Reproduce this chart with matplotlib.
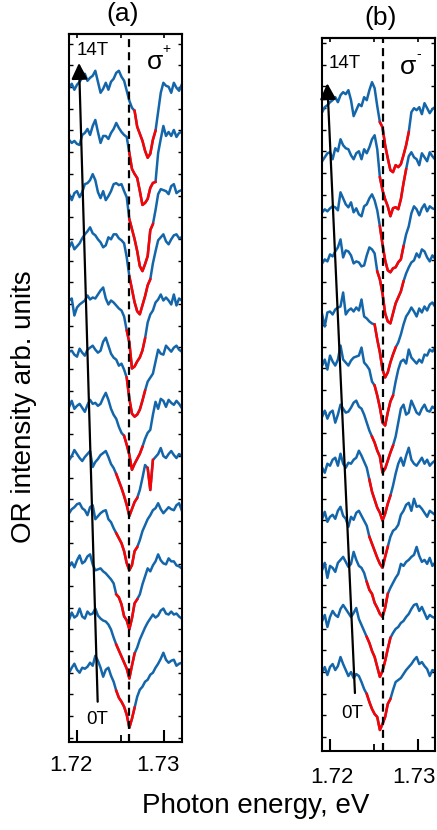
import matplotlib
matplotlib.use('Agg')
import matplotlib.pyplot as plt
from matplotlib.ticker import FixedLocator, MultipleLocator
from matplotlib.transforms import ScaledTranslation

plt.rcParams['font.family'] = ['Liberation Sans', 'DejaVu Sans']

# photon energy grid (eV), same for both panels
energy = [1.7191, 1.7194, 1.7197, 1.7200, 1.7203, 1.7206, 1.7209, 1.7212, 1.7215, 1.7218,
          1.7221, 1.7224, 1.7227, 1.7230, 1.7233, 1.7236, 1.7239, 1.7242, 1.7245, 1.7248,
          1.7251, 1.7254, 1.7257, 1.7260, 1.7263, 1.7266, 1.7269, 1.7272, 1.7275, 1.7278,
          1.7281, 1.7284, 1.7287, 1.7290, 1.7293, 1.7296, 1.7299, 1.7302, 1.7305, 1.7308,
          1.7311, 1.7314, 1.7317, 1.7320]

# (a) sigma+ : OR traces from 0T (first) to 14T (last), arb. units
spectra_a = [
    [0, 5, 9, 3, 0, 5, 4, 6, 10, 7, 17, 12, 5, -4, 3, 5, -3, -9, -18, -25, -29, -34, -42, -55, -46, -35, -24, -17, -14, -9, -7, -2, 0, 5, 9, 14, 20, 13, 10, 12, 13, 7, 9, 10],
    [0, 7, 2, 4, 11, 3, 1, 8, 5, 6, 11, 4, 1, -1, -2, -5, -10, -18, -25, -31, -37, -43, -49, -59, -46, -34, -28, -20, -14, -8, -3, 1, 5, 2, 4, 9, 11, 6, 5, 8, 5, 6, 3, 1],
    [0, 4, -1, 6, 11, 3, 5, 10, 12, 2, -4, -3, -2, -5, -7, -10, -13, -17, -28, -31, -38, -50, -54, -63, -52, -37, -33, -28, -18, -10, -2, -5, 1, 5, 12, 6, 3, 2, 8, 5, 5, 1, 0, -2],
    [0, 4, 6, 9, 10, 5, 3, -2, 6, 8, -6, -3, 0, 2, 3, -6, -9, -15, -20, -25, -30, -38, -50, -57, -52, -38, -34, -27, -18, -12, -6, -2, 3, 5, 10, 4, 0, 3, 6, 4, 3, 8, 10, 3],
    [0, 4, 10, 6, 2, -1, 3, 6, 9, -7, -2, 1, 5, 7, 9, 3, -4, -8, -14, -21, -28, -36, -45, -56, -49, -42, -38, -30, -18, -5, -8, -30, 0, 3, 6, 12, 4, 2, 6, 9, 5, 2, 6, 4],
    [0, 6, -2, 1, 3, -1, -5, 2, 7, 3, 4, 1, 3, 9, 14, 7, -2, -8, -12, -20, -26, -29, -38, -48, -63, -57, -52, -47, -40, -32, -26, -23, -8, 5, -2, 8, 6, 0, 7, 4, 2, 6, 3, -1],
    [2, 3, -1, -3, 5, 1, -2, 4, 6, 8, 4, 1, 3, 12, 16, 8, 0, -4, -6, -12, -10, -16, -24, -45, -60, -63, -61, -56, -47, -37, -28, -24, -20, -8, 4, 0, -1, 8, 5, 2, 6, 8, 4, 2],
    [0, 2, -15, -7, -4, -2, 0, 5, 1, 3, 2, 6, 10, 13, 2, -4, 0, -2, -5, -8, -10, -16, -30, -42, -68, -66, -61, -57, -50, -38, -22, -14, -10, -2, 1, 6, 0, 3, 0, -4, 6, -5, 2, 0],
    [0, 5, -2, 1, 4, 9, 13, 16, 20, 14, 12, 8, 5, 0, 2, 10, 8, 13, 13, 9, 7, 4, -10, -29, -42, -55, -64, -67, -58, -49, -38, -32, -16, -4, 7, 10, 13, 6, 3, 8, 12, 13, 9, 10],
    [0, -6, 1, 3, -3, 2, 10, 11, 14, 20, 14, 2, -4, 3, -6, -2, 3, 10, 11, 9, 10, 3, -3, -25, -35, -45, -57, -72, -77, -70, -62, -36, -30, -16, 0, 5, 4, 3, 0, 8, 10, 1, 3, 4],
    [1, -2, 0, -3, -4, 6, 8, 12, 6, 15, 21, 9, -2, 5, 5, 2, 8, 12, 18, 13, 9, 6, 4, -12, -28, -33, -37, -50, -64, -62, -58, -47, -42, -41, -12, 2, 15, 5, 9, 5, 11, 4, 8, 9],
    [0, 4, -2, 3, 6, 10, 14, 7, 10, 12, 17, 6, -5, -1, 5, -2, 6, 9, 15, 17, 11, 7, -3, -13, -20, -23, -39, -46, -53, -63, -70, -66, -52, -43, -24, -5, 5, 2, 1, -5, 5, 0, -3, 3],
]
# index ranges of the resonance part (drawn red)
red_a = [[(18, 25)], [(18, 25)], [(18, 26)], [(18, 26)], [(18, 26), (30, 32)], [(21, 28)],
         [(22, 29)], [(22, 29)], [(23, 31)], [(23, 32)], [(23, 33)], [(25, 33)]]

# (b) sigma- : 0T ... 14T
spectra_b = [
    [0, 5, -3, 5, 8, 2, 6, 15, 8, 2, -4, 0, -6, -2, -4, -10, -17, -22, -30, -37, -42, -45, -58, -52, -45, -32, -27, -18, -10, -8, -6, -2, 2, 5, 8, 12, 15, 8, 10, 6, 3, -4, 2, 1],
    [0, 6, -6, 4, 10, 6, 4, 12, 16, 12, 8, 4, 8, 13, 2, -4, -10, -16, -22, -30, -36, -46, -56, -50, -40, -28, -17, -12, -8, -6, -2, 0, 4, 7, 12, 16, 17, 10, 14, 8, 2, 6, 4, 3],
    [0, 7, -8, 4, 2, -2, 7, 10, 13, 8, 3, 6, 18, 10, 4, 2, -3, -12, -20, -24, -33, -38, -44, -47, -38, -24, -18, -13, -8, -4, 6, 4, 8, 10, 13, 15, 23, 14, 8, 10, 6, 12, 4, 7],
    [0, 7, -3, 2, 4, 0, 8, 12, 3, 0, -8, 2, -1, 6, 8, 3, -2, -7, -18, -25, -32, -39, -45, -49, -38, -28, -18, -12, -10, -6, 4, 8, 14, 16, 8, 20, 12, 13, 10, 6, 2, 8, 6, 4],
    [0, -5, 4, 2, 8, 10, 2, 14, 4, 0, 5, 4, 8, 10, 17, 12, 6, 0, -12, -24, -32, -40, -45, -53, -46, -36, -28, -18, -6, 4, 10, 2, 12, 20, 8, 4, 2, 6, 10, 4, 8, 2, 5, 7],
    [0, 6, -2, 4, 6, -6, 2, 12, 8, 4, 5, 9, 14, 16, 10, 8, 2, -6, -14, -20, -26, -34, -40, -56, -52, -44, -36, -29, -20, -6, 8, 12, 2, 4, 16, 10, 4, 2, 8, 12, 6, 5, 10, 8],
    [0, 6, -4, 10, 4, 0, 6, 20, 6, 3, 0, 5, 8, 9, 10, 18, 3, 0, -4, -16, -20, -30, -42, -57, -60, -47, -36, -30, -16, -4, 4, 6, 2, 16, 8, 5, 2, 6, 3, 11, 10, 16, 14, 18],
    [0, -12, 2, 3, 0, 5, 7, 8, 22, 0, 4, 6, 3, 7, 4, 15, -2, -4, -7, -9, -10, -25, -38, -55, -63, -58, -48, -40, -33, -28, -20, -10, -2, 2, 7, 3, -2, 6, 2, 8, 4, 10, 12, 8],
    [0, 4, 2, 9, 7, 12, 16, 24, 6, 13, 12, 8, 0, 2, 1, -3, -2, 8, 16, 14, 10, -8, -16, -30, -50, -58, -60, -50, -40, -34, -28, -18, -10, -4, 1, 3, 10, 6, 14, 12, 6, 2, 8, 5],
    [0, 3, 1, 4, 6, 5, 2, 20, 14, 8, 5, 10, 0, 4, -2, -4, 6, 8, 14, 18, 12, 2, -14, -32, -48, -58, -60, -56, -55, -50, -47, -34, -22, -14, -1, 6, 3, -3, 4, 8, 1, 6, 4, 3],
    [0, 4, 8, 9, 2, 13, 10, 22, 16, 13, 12, 6, 2, 8, 10, 2, 12, 8, 14, 22, 26, 12, -16, -29, -38, -45, -55, -47, -46, -48, -38, -22, -8, 5, 9, 4, 2, -4, 8, 4, 0, 9, 5, 2],
    [-2, 3, 5, 8, 10, 13, 8, 15, 18, 16, 20, 10, -6, 0, 6, 4, 13, 10, 20, 28, 22, 4, -12, -17, -35, -48, -60, -62, -55, -57, -54, -45, -35, -22, -2, 2, 0, 3, -4, 7, 2, -3, 1, 3],
]
red_b = [[(17, 26)], [(17, 26)], [(17, 25)], [(18, 25)], [(18, 26)], [(19, 27)],
         [(20, 27)], [(20, 28)], [(21, 31)], [(22, 31)], [(22, 32)], [(22, 33)]]

exciton_energy = 1.7260
major_ticks = [1.72, 1.73]
field_labels = ['0T', '14T']

blue = '#1466aa'
red = '#ff0000'


def draw_panel(ax, spectra, red_parts, shift, ylim, sign, arrow, lab0, lab14, sig_pos,
               lab_dx, lab_dy):
    for k, trace in enumerate(spectra):
        y = [v + k * shift for v in trace]
        ax.plot(energy, y, color=blue, lw=1.8)
        for lo, hi in red_parts[k]:
            ax.plot(energy[lo:hi + 1], y[lo:hi + 1], color=red, lw=1.8)
    ax.axvline(exciton_energy, color='k', lw=1.6, ls=(0, (3.6, 2.3)))
    ax.set_xlim(1.71905, 1.7320)
    ax.set_ylim(*ylim)
    ax.xaxis.set_major_locator(FixedLocator(major_ticks))
    ax.xaxis.set_minor_locator(FixedLocator([1.725]))
    ax.tick_params(axis='x', which='major', direction='in', length=9, width=1.5, labelbottom=False)
    ax.tick_params(axis='x', which='minor', direction='in', length=5, width=1.3)
    ax.yaxis.set_major_locator(MultipleLocator(21.7))
    ax.tick_params(axis='y', direction='in', length=3, width=1.0, left=True, right=True,
                   labelleft=False)
    top = ax.secondary_xaxis('top')
    top.xaxis.set_major_locator(FixedLocator(major_ticks))
    top.xaxis.set_minor_locator(FixedLocator([1.725]))
    top.tick_params(which='both', direction='in', length=3, width=1.2, labeltop=False)
    for s in list(ax.spines.values()) + list(top.spines.values()):
        s.set_linewidth(1.5)
    # tick labels, nudged like in the original figure
    for t, dx in zip(major_ticks, lab_dx):
        tr = ax.get_xaxis_transform() + ScaledTranslation(dx / 100, -lab_dy / 100,
                                                           ax.figure.dpi_scale_trans)
        ax.text(t, 0, f'{t:.2f}', transform=tr, fontsize=16, ha='center', va='center')
    ax.annotate('', xy=arrow[1], xytext=arrow[0],
                arrowprops=dict(arrowstyle='-|>', color='k', lw=1.6, mutation_scale=24,
                                shrinkA=0, shrinkB=0))
    ax.text(lab0[0], lab0[1], field_labels[0], fontsize=13.5, ha='center', va='center')
    ax.text(lab14[0], lab14[1], field_labels[1], fontsize=13.5, ha='center', va='center')
    ax.text(sig_pos[0], sig_pos[1], 'σ', fontsize=19, ha='center', va='center')
    ax.text(sig_pos[0] + 0.0013, sig_pos[1] + 13, sign, fontsize=10, ha='center', va='center')


fig = plt.figure(figsize=(4.37, 8.30), dpi=100)
ax_a = fig.add_axes([68.7 / 437, 1 - 741.7 / 830, 113 / 437, (741.7 - 34) / 830])
ax_b = fig.add_axes([321.7 / 437, 1 - 750.5 / 830, 113.3 / 437, (750.5 - 38.3) / 830])

draw_panel(ax_a, spectra_a, red_a, 53.2, (-69, 639), '+',
           ((1.72237, -29), (1.72023, 610)), (1.72230, -47), (1.72184, 622), (1.72896, 611),
           (-6, -6.5), 24)
draw_panel(ax_b, spectra_b, red_b, 51.1, (-78.5, 634), '-',
           ((1.72285, -21), (1.71969, 589)), (1.72258, -41), (1.72171, 609), (1.72889, 605),
           (1.5, -4), 26.5)

fig.text(123 / 437, 1 - 14 / 830, '(a)', fontsize=19, ha='center', va='center')
fig.text(381 / 437, 1 - 18 / 830, '(b)', fontsize=19, ha='center', va='center')
fig.text(256 / 437, 1 - 806 / 830, 'Photon energy, eV', fontsize=20, ha='center', va='center')
fig.text(24 / 437, 1 - 407 / 830, 'OR intensity arb. units', fontsize=20, rotation=90,
         ha='center', va='center')

fig.savefig('out.png', dpi=100)
